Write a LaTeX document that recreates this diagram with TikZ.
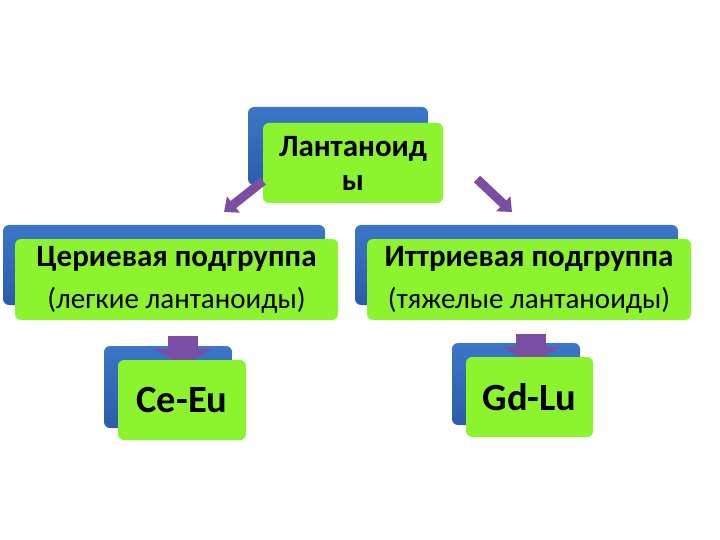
\documentclass[tikz,border=0pt]{standalone}
\usepackage{fontspec}
\setmainfont{Carlito}
\usetikzlibrary{arrows.meta}
\definecolor{slideblue}{RGB}{60,118,198}
\definecolor{slidebluedark}{RGB}{44,92,170}
\definecolor{slidegreen}{RGB}{140,244,46}
\definecolor{slidepurple}{RGB}{122,78,162}
\tikzset{
  backbox/.style={rounded corners=6pt, top color=slideblue, bottom color=slidebluedark, draw=none, inner sep=0pt},
  frontbox/.style={rounded corners=6pt, fill=slidegreen, draw=none, align=center, inner sep=0pt, font=\bfseries},
  downarrow/.style={draw=slidepurple, line width=30pt, -{Triangle[width=58pt,length=16pt]}, shorten >=0pt},
  sidearrow/.style={draw=slidepurple, line width=9pt, -{Triangle[width=20pt,length=12pt]}},
}
\begin{document}
\begin{tikzpicture}[x=1pt,y=-1pt]
	\useasboundingbox (0,0) rectangle (720,540);
	
	% top
	\node[backbox, minimum width=180pt, minimum height=78pt] (lanb) at (338,146) {};
	\node[frontbox, minimum width=180pt, minimum height=80pt, font=\bfseries\fontsize{31}{34}\selectfont] (lan) at (353,163) {Лантаноид\\ы};
	
	\coordinate (la1) at (263,181);
	\coordinate (la2) at (224,212);
	\coordinate (ra1) at (477,179);
	\coordinate (ra2) at (512,212);
	\draw[sidearrow] (la1) -- (la2);
	\draw[sidearrow] (ra1) -- (ra2);
	
	% middle
	\node[backbox, minimum width=322pt, minimum height=80pt] (cerb) at (164,265) {};
	\node[backbox, minimum width=323pt, minimum height=80pt] (ittb) at (516.5,265) {};
	
	\coordinate (ca) at (183,336);
	\coordinate (ia) at (531,334);
	
	% bottom back
	\node[backbox, minimum width=128pt, minimum height=82pt] (ceb) at (168,387) {};
	\node[backbox, minimum width=128pt, minimum height=82pt] (gdb) at (516,384) {};
	
	\draw[downarrow] (ca) -- ++(0,29) coordinate (ct);
	\draw[downarrow] (ia) -- ++(0,29) coordinate (it);
	
	\node[frontbox, minimum width=323pt, minimum height=81pt] (cer) at (176.5,279.5)
		{{\fontsize{31}{33}\selectfont Цериевая подгруппа}\\[15pt]{\mdseries\fontsize{29}{31}\selectfont (легкие лантаноиды)}};
	\node[frontbox, minimum width=324pt, minimum height=81pt] (itt) at (529,279.5)
		{{\fontsize{31}{33}\selectfont Иттриевая подгруппа}\\[15pt]{\mdseries\fontsize{29}{31}\selectfont (тяжелые лантаноиды)}};
	
	% bottom
	\node[frontbox, minimum width=128pt, minimum height=80pt, font=\bfseries\fontsize{38.5}{40}\selectfont] (ce) at (182,400) {Ce-Eu};
	\node[frontbox, minimum width=127pt, minimum height=80pt, font=\bfseries\fontsize{38.5}{40}\selectfont] (gd) at (529.5,397) {Gd-Lu};
	
\end{tikzpicture}
\end{document}
